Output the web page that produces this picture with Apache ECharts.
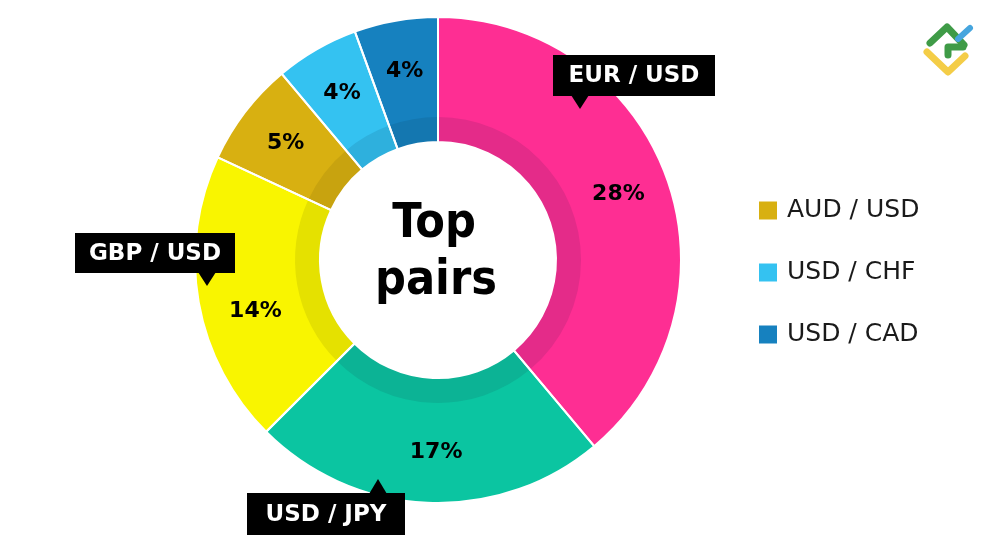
<!DOCTYPE html>
<html><head><meta charset="utf-8">
<script src="https://cdn.jsdelivr.net/npm/echarts@6/dist/echarts.min.js"></script>
<style>html,body{margin:0;padding:0;background:#fff}#c{width:1000px;height:545px}</style>
</head><body><div id="c"></div>
<script>
const pairs = ['EUR / USD','USD / JPY','GBP / USD','AUD / USD','USD / CHF','USD / CAD'];
const shares = [28,17,14,5,4,4];
const colors = ['#FE2E93','#0BC5A1','#F9F500','#D8B011','#34C2F1','#1681BF'];
const bandColors = ['#E42B89','#0CB395','#E5E100','#C8A30F','#2EB0DD','#1477B0'];
const legendPairs = ['AUD / USD','USD / CHF','USD / CAD'];
const calloutPairs = ['EUR / USD','GBP / USD','USD / JPY'];
const centerTitle = ['Top','pairs'];

const CX = 438, CY = 260;

const ringData = pairs.map((n,i)=>({name:n,value:shares[i],itemStyle:{color:colors[i]}}));
const bandData = pairs.map((n,i)=>({name:n,value:shares[i],itemStyle:{color:bandColors[i]}}));
const edgeData = pairs.map((n,i)=>({name:n,value:shares[i]}));
const labelData = pairs.map((n,i)=>({name:n,value:shares[i]}));

function labelFormatter(p) {
  if (p.name === 'GBP / USD') return '{sp|}\n{px|}{v|' + p.value + '%}';
  if (p.name === 'USD / JPY') return '{px|}{v|' + p.value + '%}';
  return '{v|' + p.value + '%}';
}

function callout(text, x, y, w, h, tri, up) {
  const els = [
    {type:'rect', z:100, shape:{x:x,y:y,width:w,height:h}, style:{fill:'#000'}},
    {type:'polygon', z:100, shape:{points: up ? [[tri-9,y+1],[tri+9,y+1],[tri,y-14]] : [[tri-9,y+h-1],[tri+9,y+h-1],[tri,y+h+13]]}, style:{fill:'#000'}},
    {type:'text', z:101, x:x+w/2, y:y+h/2+1, style:{text:text, fill:'#fff', font:'bold 23px "DejaVu Sans"', align:'center', verticalAlign:'middle'}}
  ];
  return {type:'group', z:100, children: els};
}

const chart = echarts.init(document.getElementById('c'), null, {renderer:'canvas'});
chart.setOption({
  backgroundColor:'#fff',
  animation:false,
  legend:{
    data: legendPairs,
    orient:'vertical', left:759, top:198, padding:0,
    itemWidth:18, itemHeight:18, itemGap:37,
    icon:'rect', selectedMode:false,
    itemStyle:{borderWidth:0},
    textStyle:{color:'#1a1a1a', fontSize:25, fontFamily:'DejaVu Sans', padding:[0,0,0,5]}
  },
  series:[
    {type:'pie', radius:[118,243], center:[CX,CY], startAngle:90, silent:true,
     label:{show:false}, labelLine:{show:false},
     itemStyle:{borderWidth:0}, data:ringData, z:2},
    {type:'pie', radius:[118,143], center:[CX,CY], startAngle:90, silent:true,
     label:{show:false}, labelLine:{show:false},
     itemStyle:{borderWidth:0}, data:bandData, z:3},
    {type:'pie', radius:[118,243], center:[CX,CY], startAngle:90, silent:true,
     label:{show:false}, labelLine:{show:false},
     itemStyle:{color:'rgba(0,0,0,0)', borderColor:'#fff', borderWidth:2}, data:edgeData, z:4},
    {type:'pie', radius:[135,243], center:[CX,CY], startAngle:90, silent:true,
     itemStyle:{color:'rgba(0,0,0,0)', borderWidth:0},
     label:{show:true, position:'inside', formatter:labelFormatter,
       rich:{
         v:{color:'#000', fontSize:22, fontWeight:'bold', fontFamily:'DejaVu Sans'},
         sp:{height:36},
         px:{width:13, height:22}
       }},
     labelLine:{show:false}, data:labelData, z:5}
  ],
  graphic:[
    {type:'text', x:CX-4, y:225, z:100, style:{text:centerTitle[0], fill:'#000', font:'bold 48px "DejaVu Sans Condensed", "DejaVu Sans"', align:'center', verticalAlign:'middle'}},
    {type:'text', x:CX-2, y:282, z:100, style:{text:centerTitle[1], fill:'#000', font:'bold 48px "DejaVu Sans Condensed", "DejaVu Sans"', align:'center', verticalAlign:'middle'}},
    callout(calloutPairs[0], 553, 55, 162, 41, 580, false),
    callout(calloutPairs[1], 75, 233, 160, 40, 207, false),
    callout(calloutPairs[2], 247, 493, 158, 42, 378, true),
    {type:'group', z:100, children:[
      {type:'polyline', z:100, shape:{points:[[927,52],[948,72],[965,56]]}, style:{stroke:'#F4CD47', lineWidth:7, fill:null, lineJoin:'round', lineCap:'round'}},
      {type:'polyline', z:100, shape:{points:[[930,43],[947,27],[964,45]]}, style:{stroke:'#3F9B47', lineWidth:7, fill:null, lineJoin:'round', lineCap:'round'}},
      {type:'polyline', z:100, shape:{points:[[948,55],[948,47],[963,47]]}, style:{stroke:'#3F9B47', lineWidth:7, fill:null, lineJoin:'round', lineCap:'round'}},
      {type:'line', z:100, shape:{x1:958,y1:39,x2:970,y2:28}, style:{stroke:'#46A5DE', lineWidth:6, lineCap:'round'}}
    ]}
  ]
});
</script></body></html>
